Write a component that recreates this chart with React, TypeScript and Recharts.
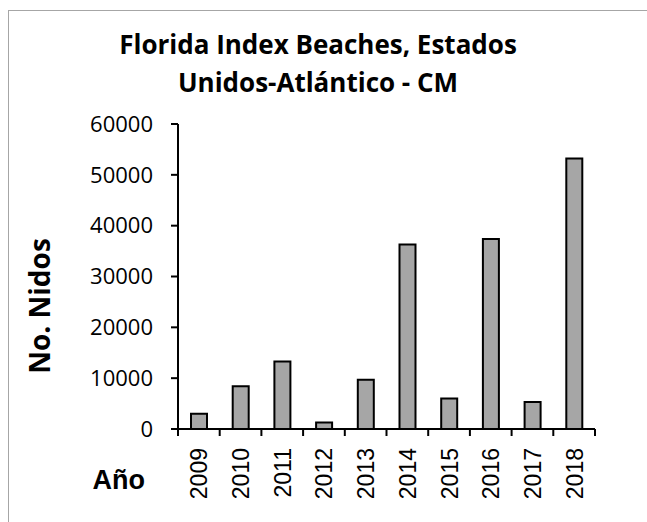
import React from "react";
import { BarChart, Bar, XAxis, YAxis } from "recharts";

const years = ["2009", "2010", "2011", "2012", "2013", "2014", "2015", "2016", "2017", "2018"];
const nests = [3000, 8400, 13300, 1300, 9700, 36300, 6000, 37400, 5300, 53200];
const yTicks = [0, 10000, 20000, 30000, 40000, 50000, 60000];
const titleLines = ["Florida Index Beaches, Estados", "Unidos-Atlántico - CM"];

const data = years.map((year, i) => ({ year, nests: nests[i] }));

const W = 647;
const H = 522;
const LEFT = 178;
const RIGHT = 595;
const TOP = 124;
const BOTTOM = 429;
const BAND = (RIGHT - LEFT) / years.length;

const sans = "'Open Sans', 'Noto Sans', sans-serif";
const arial = "'Liberation Sans', Arial, sans-serif";

function YearTick(props: any) {
  const { x, index, payload } = props;
  const left = x - BAND / 2;
  return (
    <g>
      <line x1={left} y1={BOTTOM} x2={left} y2={BOTTOM + 7} stroke="#000" strokeWidth={2} />
      {index === years.length - 1 && (
        <line x1={x + BAND / 2} y1={BOTTOM} x2={x + BAND / 2} y2={BOTTOM + 7} stroke="#000" strokeWidth={2} />
      )}
      <text
        x={x + 8.5}
        y={448}
        transform={`rotate(-90, ${x + 8.5}, 448)`}
        textAnchor="end"
        fontFamily={arial}
        fontSize={23}
        fill="#000"
      >
        {payload.value}
      </text>
    </g>
  );
}

export default function App() {
  return (
    <div style={{ position: "absolute", left: 0, top: 0, width: W, height: H, background: "#fff", overflow: "hidden" }}>
      <div
        style={{
          position: "absolute",
          left: 8,
          top: 10,
          width: 800,
          height: 700,
          borderLeft: "1px solid #a6a6a6",
          borderTop: "1px solid #a6a6a6",
        }}
      />
      <BarChart
        width={W}
        height={H}
        data={data}
        margin={{ top: TOP, right: W - RIGHT, left: 0, bottom: 0 }}
        style={{ position: "absolute", left: 0, top: 0 }}
      >
        <XAxis
          dataKey="year"
          height={H - BOTTOM}
          axisLine={{ stroke: "#000", strokeWidth: 2 }}
          tickLine={false}
          tick={<YearTick />}
          interval={0}
        />
        <YAxis
          width={LEFT}
          domain={[0, 60000]}
          ticks={yTicks}
          interval={0}
          axisLine={{ stroke: "#000", strokeWidth: 2 }}
          tickLine={{ stroke: "#000", strokeWidth: 2 }}
          tickSize={7}
          tickMargin={18}
          tick={{ fontFamily: sans, fontSize: 22, fill: "#000" }}
        />
        <Bar
          dataKey="nests"
          fill="#a6a6a6"
          stroke="#000"
          strokeWidth={2}
          barSize={16}
          isAnimationActive={false}
        />
      </BarChart>
      <svg width={W} height={H} style={{ position: "absolute", left: 0, top: 0, pointerEvents: "none" }}>
        {titleLines.map((line, i) => (
          <text
            key={line}
            x={318}
            y={54 + i * 38}
            textAnchor="middle"
            fontFamily={sans}
            fontWeight={700}
            fontSize={26}
            fill="#000"
          >
            {line}
          </text>
        ))}
        <text
          x={50}
          y={306}
          transform="rotate(-90, 50, 306)"
          textAnchor="middle"
          fontFamily={sans}
          fontWeight={700}
          fontSize={28}
          fill="#000"
        >
          No. Nidos
        </text>
        <text x={145} y={489} textAnchor="end" fontFamily={arial} fontWeight={700} fontSize={27} fill="#000">
          Año
        </text>
      </svg>
    </div>
  );
}
